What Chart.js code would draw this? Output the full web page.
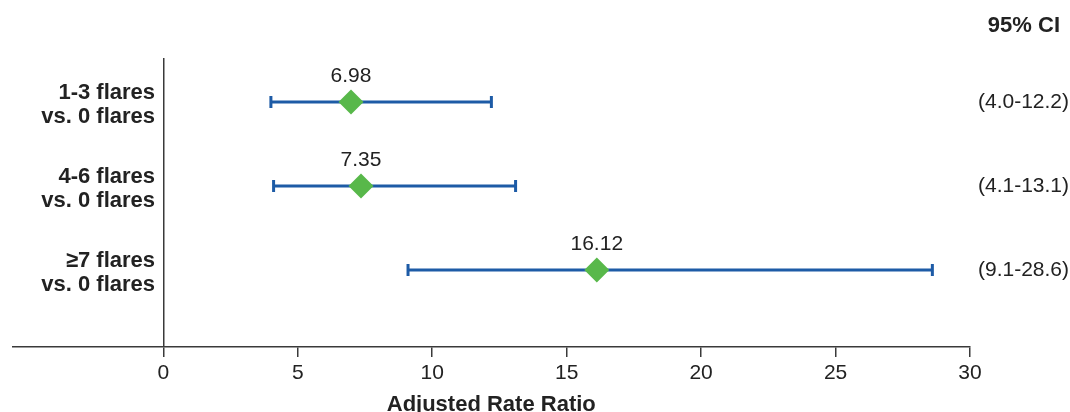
<!DOCTYPE html>
<html>
<head>
<meta charset="utf-8">
<script src="https://cdn.jsdelivr.net/npm/chart.js@4"></script>
<style>
  html, body { margin: 0; padding: 0; background: #fff; }
  #wrap { width: 1070px; height: 412px; }
</style>
</head>
<body>
<div id="wrap"><canvas id="c" width="1070" height="412"></canvas></div>
<script>
// ---- data ----
const rowLabels = [['1-3 flares', 'vs. 0 flares'], ['4-6 flares', 'vs. 0 flares'], ['\u22657 flares', 'vs. 0 flares']];
const estimates = [6.98, 7.35, 16.12];
const ciLow = [4.0, 4.1, 9.1];
const ciHigh = [12.2, 13.1, 28.6];
const ciText = ['(4.0-12.2)', '(4.1-13.1)', '(9.1-28.6)'];
const ciHeader = '95% CI';
const xTickValues = [0, 5, 10, 15, 20, 25, 30];
const rowPositions = [1, 2, 3];

const BLUE = '#1d5ba6';
const GREEN = '#58b84a';
const TEXT = '#222222';
const AXIS = '#3a3a3a';
const FONT = 'Liberation Sans, Arial, Helvetica, sans-serif';

const datasets = [];
// diamonds (drawn on top)
datasets.push({
  label: 'estimate',
  data: estimates.map((v, i) => ({ x: v, y: rowPositions[i] })),
  pointStyle: 'rectRot',
  pointRadius: 12.5,
  pointHoverRadius: 12.5,
  backgroundColor: GREEN,
  borderColor: GREEN,
  borderWidth: 0,
  showLine: false,
  order: 0
});
// caps
datasets.push({
  label: 'caps',
  data: ciLow.map((v, i) => ({ x: v, y: rowPositions[i] })).concat(ciHigh.map((v, i) => ({ x: v, y: rowPositions[i] }))),
  pointStyle: 'line',
  rotation: 90,
  pointRadius: 6,
  pointHoverRadius: 6,
  borderColor: BLUE,
  backgroundColor: BLUE,
  pointBorderWidth: 3,
  borderWidth: 3,
  showLine: false,
  order: 1
});
// CI lines
rowPositions.forEach((r, i) => {
  datasets.push({
    label: 'ci' + i,
    data: [{ x: ciLow[i], y: r }, { x: ciHigh[i], y: r }],
    showLine: true,
    borderColor: BLUE,
    borderWidth: 3,
    pointRadius: 0,
    pointHoverRadius: 0,
    order: 2
  });
});

const valueLabels = {
  id: 'valueLabels',
  afterDatasetsDraw(chart) {
    const meta = chart.getDatasetMeta(0);
    const ctx = chart.ctx;
    ctx.save();
    ctx.font = '21px ' + FONT;
    ctx.fillStyle = TEXT;
    ctx.textAlign = 'center';
    ctx.textBaseline = 'middle';
    meta.data.forEach((el, i) => {
      ctx.fillText(estimates[i].toFixed(2), el.x, el.y - 26);
    });
    // column header above the CI labels
    const y2 = chart.scales.y2;
    ctx.font = 'bold 22px ' + FONT;
    ctx.textAlign = 'right';
    ctx.fillText(ciHeader, y2.right - 8, 26);
    ctx.restore();
  }
};

const yMin = 0.476, yMax = 3.917;

new Chart(document.getElementById('c'), {
  type: 'scatter',
  data: { datasets },
  options: {
    responsive: false,
    animation: false,
    events: [],
    layout: { padding: { left: 8, right: 2, top: 58, bottom: 0 } },
    plugins: {
      legend: { display: false },
      tooltip: { enabled: false },
      title: { display: false }
    },
    scales: {
      x: {
        type: 'linear',
        position: 'bottom',
        min: -5.61,
        max: 30,
        afterBuildTicks: (s) => { s.ticks = xTickValues.map(v => ({ value: v })); },
        afterFit: (s) => { s.height = 65; },
        ticks: {
          color: TEXT,
          font: { family: FONT, size: 21 },
          padding: 4,
          maxRotation: 0,
          autoSkip: false
        },
        grid: {
          drawOnChartArea: true,
          drawTicks: true,
          tickLength: 10,
          color: (c) => (c.tick && c.tick.value === 0) ? AXIS : 'rgba(0,0,0,0)',
          tickColor: AXIS,
          lineWidth: 1.5
        },
        border: { display: true, color: AXIS, width: 1.5 },
        title: {
          display: true,
          text: 'Adjusted Rate Ratio',
          color: TEXT,
          font: { family: FONT, size: 22, weight: 'bold', lineHeight: 0.6 },
          padding: { top: 10, bottom: 0 }
        }
      },
      y: {
        type: 'linear',
        position: { x: -0.31 },
        reverse: true,
        min: yMin,
        max: yMax,
        afterBuildTicks: (s) => { s.ticks = rowPositions.map(v => ({ value: v })); },
        ticks: {
          color: TEXT,
          font: { family: FONT, size: 22, weight: 'bold', lineHeight: 1.1 },
          padding: 0,
          labelOffset: 3,
          autoSkip: false,
          callback: (v, i) => rowLabels[i]
        },
        grid: { display: false, drawTicks: false },
        border: { display: false }
      },
      y2: {
        type: 'linear',
        position: 'right',
        reverse: true,
        min: yMin,
        max: yMax,
        afterBuildTicks: (s) => { s.ticks = rowPositions.map(v => ({ value: v })); },
        afterFit: (s) => { s.width = 98; },
        ticks: {
          color: TEXT,
          font: { family: FONT, size: 21 },
          padding: 8,
          crossAlign: 'center',
          autoSkip: false,
          callback: (v, i) => ciText[i]
        },
        grid: { display: false, drawTicks: false },
        border: { display: false }
      }
    }
  },
  plugins: [valueLabels]
});
</script>
</body>
</html>
